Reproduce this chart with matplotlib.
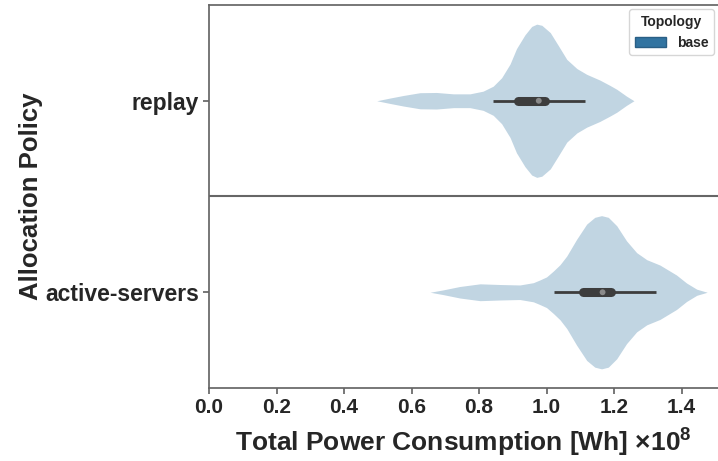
import matplotlib
matplotlib.use('Agg')
import matplotlib.pyplot as plt
from matplotlib.patches import Patch

plt.rcParams['font.family'] = ['Liberation Sans', 'DejaVu Sans']
plt.rcParams['font.weight'] = 'bold'
plt.rcParams['mathtext.fontset'] = 'custom'
plt.rcParams['mathtext.rm'] = 'Liberation Sans:bold'
plt.rcParams['mathtext.bf'] = 'Liberation Sans:bold'
plt.rcParams['mathtext.default'] = 'bf'

# カテゴリ
policies = ['replay', 'active-servers']

# バイオリンの輪郭 (値 [x1e8 Wh], 相対密度) を図から読み取り
replay_values = [0.497, 0.536, 0.576, 0.625, 0.674, 0.724, 0.773, 0.812, 0.842,
                 0.867, 0.892, 0.911, 0.936, 0.956, 0.971, 0.986, 1.011, 1.035,
                 1.060, 1.090, 1.119, 1.158, 1.188, 1.208, 1.237, 1.259]
replay_density = [0.0, 0.035, 0.069, 0.105, 0.108, 0.090, 0.090, 0.125, 0.190,
                  0.300, 0.480, 0.680, 0.860, 0.970, 1.0, 0.985, 0.890, 0.720,
                  0.540, 0.420, 0.345, 0.270, 0.200, 0.150, 0.060, 0.0]

active_values = [0.655, 0.694, 0.743, 0.803, 0.862, 0.921, 0.961, 0.980, 1.000,
                 1.020, 1.040, 1.060, 1.089, 1.119, 1.143, 1.163, 1.183, 1.208,
                 1.237, 1.267, 1.297, 1.336, 1.385, 1.415, 1.445, 1.476]
active_density = [0.0, 0.031, 0.075, 0.110, 0.101, 0.095, 0.125, 0.160, 0.200,
                  0.276, 0.360, 0.474, 0.690, 0.890, 0.978, 1.0, 0.978, 0.868,
                  0.671, 0.517, 0.425, 0.355, 0.225, 0.120, 0.040, 0.0]

# 箱ひげの統計量 (ひげ下端, Q1, 中央値, Q3, ひげ上端)
replay_box = [0.842, 0.904, 0.977, 1.005, 1.114]
active_box = [1.023, 1.099, 1.166, 1.200, 1.324]

x_ticks = [0.0, 0.2, 0.4, 0.6, 0.8, 1.0, 1.2, 1.4]

profiles = [(replay_values, replay_density), (active_values, active_density)]
boxes = [replay_box, active_box]

base_color = '#3274a1'
spine_color = '#666666'
text_color = '#262626'

fig = plt.figure(figsize=(7.18, 4.61), dpi=100)
ax = fig.add_axes([209 / 718, 73 / 461, 509 / 718, 383 / 461])

half_width = 0.4
for i, ((vals, dens), box) in enumerate(zip(profiles, boxes)):
    lo = [i - d * half_width for d in dens]
    hi = [i + d * half_width for d in dens]
    ax.fill_between(vals, lo, hi, color=base_color, alpha=0.3, lw=0, zorder=2)
    # 箱ひげ
    ax.plot([box[0], box[4]], [i, i], color='#3d3d3d', lw=2,
            solid_capstyle='butt', zorder=3)
    ax.plot([box[1] + 0.01, box[3] - 0.01], [i, i], color='#3d3d3d', lw=6.5,
            solid_capstyle='round', zorder=4)
    ax.scatter([box[2]], [i], s=18, color='#8a8a8a', edgecolors='none', zorder=5)

# カテゴリの区切り線
ax.axhline(0.5, color=spine_color, lw=1.5, zorder=1)

ax.set_xlim(0, 1.508)
ax.set_ylim(1.5, -0.5)
ax.set_yticks(range(len(policies)))
ax.set_yticklabels(policies)
ax.set_xticks(x_ticks)
ax.set_xticklabels([f'{t:.1f}' for t in x_ticks])

for side in ['left', 'bottom', 'top']:
    ax.spines[side].set_color(spine_color)
    ax.spines[side].set_linewidth(1.25)
ax.spines['right'].set_visible(False)

ax.tick_params(axis='x', labelsize=15, length=4, width=1.25, color=spine_color,
               labelcolor=text_color, pad=3)
ax.tick_params(axis='y', labelsize=16.5, length=4, width=1.25, color=spine_color,
               labelcolor=text_color, pad=3)
for lab in ax.get_xticklabels() + ax.get_yticklabels():
    lab.set_fontweight('bold')

ax.set_xlabel(r'Total Power Consumption [Wh] $\times10^{8}$', fontsize=19,
              fontweight='bold', color=text_color, labelpad=7)
ax.set_ylabel('Allocation Policy', fontsize=18.5, fontweight='bold',
              color=text_color, labelpad=2)

handles = [Patch(facecolor=base_color, edgecolor='#2a5f85', label='base')]
leg = ax.legend(handles=handles, title='Topology', loc='upper right',
                fontsize=10, title_fontsize=10, frameon=True, fancybox=True,
                borderaxespad=0.3, handlelength=2.2)
leg.get_title().set_fontweight('bold')
for t in leg.get_texts():
    t.set_fontweight('bold')
    t.set_color(text_color)
leg.get_title().set_color(text_color)

fig.savefig('out.png', dpi=100)
